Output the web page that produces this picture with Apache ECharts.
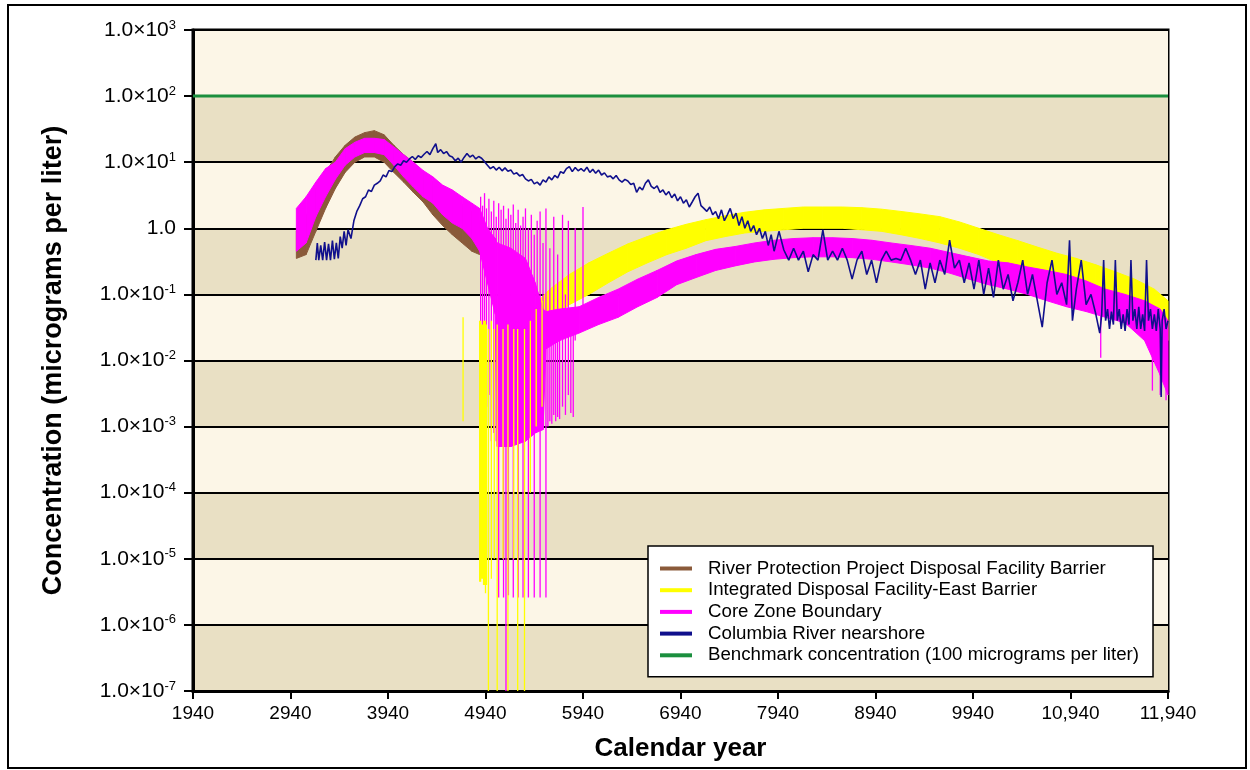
<!DOCTYPE html>
<html>
<head>
<meta charset="utf-8">
<title>Concentration vs calendar year</title>
<script src="https://cdn.jsdelivr.net/npm/echarts@6/dist/echarts.min.js"></script>
<style>
  html, body { margin: 0; padding: 0; background: #fff; }
  #chart { width: 1250px; height: 770px; }
</style>
</head>
<body>
<div id="chart"></div>
<script>
// x axis runs 1940..11940, plotted as offset from 1940 so ticks land on the labels
var X0 = 1940;
var xTickLabels = ['1940', '2940', '3940', '4940', '5940', '6940', '7940', '8940', '9940', '10,940', '11,940'];

var seriesNames = [
  'River Protection Project Disposal Facility Barrier',
  'Integrated Disposal Facility-East Barrier',
  'Core Zone Boundary',
  'Columbia River nearshore',
  'Benchmark concentration (100 micrograms per liter)'
];

// bands: [year, low, high]
var rppBand = [
  [3000, 0.35, 0.9], [3100, 0.4, 1.5], [3200, 0.9, 4], [3300, 2, 7], [3400, 4, 12],
  [3500, 7, 18], [3600, 10, 24], [3700, 12, 28], [3800, 12, 30], [3900, 10, 26],
  [4000, 7, 18], [4100, 5, 13], [4200, 3.5, 10], [4300, 2.5, 7], [4400, 1.6, 5],
  [4500, 1.1, 4], [4600, 0.8, 3], [4700, 0.6, 2.3], [4800, 0.45, 1.8], [4880, 0.4, 1.2]
];

var coreBand = [
  [3000, 0.45, 2], [3100, 0.6, 3], [3200, 1.5, 5], [3300, 3, 8], [3400, 5.5, 10],
  [3500, 9, 16], [3600, 12, 20], [3700, 14, 23], [3800, 14, 23], [3900, 13, 22],
  [4000, 9, 17], [4100, 6, 13], [4200, 4.2, 10], [4300, 3, 7.5], [4400, 2.4, 6],
  [4500, 1.6, 4.5], [4600, 1.2, 3.8], [4700, 1.0, 3], [4800, 0.7, 2.4], [4880, 0.45, 2],
  [4960, 0.15, 1.0], [5040, 0.05, 0.7], [5060, 0.0005, 0.6], [5200, 0.0005, 0.5],
  [5350, 0.0006, 0.35], [5450, 0.0008, 0.15], [5530, 0.0009, 0.06], [5560, 0.015, 0.055],
  [5700, 0.02, 0.06], [5900, 0.026, 0.065], [6100, 0.035, 0.09], [6300, 0.045, 0.12],
  [6500, 0.065, 0.17], [6700, 0.09, 0.23], [6900, 0.14, 0.32], [7100, 0.18, 0.4],
  [7300, 0.23, 0.48], [7500, 0.27, 0.53], [7700, 0.31, 0.6], [7900, 0.34, 0.66],
  [8100, 0.36, 0.7], [8300, 0.37, 0.72], [8500, 0.37, 0.72], [8700, 0.36, 0.7],
  [8900, 0.34, 0.66], [9100, 0.31, 0.6], [9300, 0.28, 0.55], [9500, 0.25, 0.5],
  [9700, 0.21, 0.43], [9900, 0.17, 0.37], [10100, 0.14, 0.32], [10300, 0.12, 0.3],
  [10500, 0.1, 0.26], [10700, 0.08, 0.23], [10900, 0.065, 0.2], [11100, 0.055, 0.16],
  [11300, 0.045, 0.12], [11500, 0.037, 0.1], [11700, 0.02, 0.08], [11860, 0.006, 0.06],
  [11940, 0.003, 0.04]
];

var idfBand = [
  [5400, 0.02, 0.06], [5600, 0.04, 0.12], [5800, 0.07, 0.2], [6000, 0.1, 0.3],
  [6200, 0.15, 0.42], [6400, 0.22, 0.58], [6600, 0.3, 0.75], [6800, 0.4, 0.95],
  [7000, 0.5, 1.15], [7200, 0.65, 1.35], [7400, 0.75, 1.55], [7600, 0.85, 1.75],
  [7800, 0.9, 1.9], [8000, 0.95, 2.0], [8200, 1.0, 2.1], [8400, 1.0, 2.1],
  [8600, 1.0, 2.1], [8800, 0.95, 2.05], [9000, 0.9, 1.95], [9200, 0.8, 1.8],
  [9400, 0.7, 1.65], [9600, 0.6, 1.5], [9800, 0.5, 1.25], [10000, 0.4, 1.0],
  [10200, 0.3, 0.8], [10400, 0.25, 0.65], [10600, 0.2, 0.52], [10800, 0.15, 0.42],
  [11000, 0.12, 0.35], [11200, 0.09, 0.28], [11400, 0.07, 0.22], [11600, 0.05, 0.17],
  [11800, 0.03, 0.12], [11940, 0.02, 0.08]
];

// spikes: [year, top, bottom]
var coreSpikes = [
  [4890, 3.0, 0.03], [4910, 2.2, 0.004], [4930, 3.4, 0.02], [4950, 2.0, 0.002], [4975, 2.8, 0.003],
  [5000, 1.8, 0.0006], [5025, 2.6, 0.0008], [5050, 1.5, 0.0006], [5075, 2.4, 2.6e-6], [5100, 1.9, 0.0005],
  [5125, 2.2, 2.6e-6], [5150, 1.4, 1e-7], [5175, 2.0, 2.8e-6], [5200, 1.6, 0.0005], [5225, 2.3, 2.6e-6],
  [5250, 1.2, 0.0006], [5275, 1.9, 2.6e-6], [5300, 1.1, 0.0006], [5325, 1.5, 2.6e-6], [5350, 2.0, 0.0007],
  [5380, 1.0, 2.6e-6], [5410, 1.6, 0.0008], [5440, 0.8, 2.6e-6], [5470, 1.3, 0.001], [5500, 1.8, 2.6e-6],
  [5530, 0.6, 0.0009], [5560, 2.0, 2.6e-6], [5580, 0.05, 0.001], [5600, 0.5, 0.0012], [5620, 0.05, 0.0011],
  [5640, 1.5, 0.0015], [5660, 0.05, 0.0012], [5680, 0.4, 0.0014], [5700, 0.05, 0.0013], [5730, 1.6, 0.002],
  [5760, 0.1, 0.0015], [5790, 1.3, 0.003], [5815, 0.05, 0.0016], [5840, 0.06, 0.0014], [5860, 1.0, 0.02],
  [5940, 2.1, 0.03], [11250, 0.1, 0.011], [11780, 0.05, 0.0035], [11860, 0.05, 0.003], [11920, 0.04, 0.0025]
];

var idfSpikes = [
  [4710, 0.045, 0.0012], [4880, 0.04, 4.5e-6], [4890, 0.04, 4.5e-6], [4900, 0.035, 5e-6], [4910, 0.035, 5e-6],
  [4920, 0.04, 4e-6], [4930, 0.04, 4e-6], [4940, 0.04, 3e-6], [4950, 0.035, 4e-6], [4970, 0.03, 1e-7],
  [5000, 0.04, 5e-6], [5030, 0.03, 1e-5], [5060, 0.035, 1e-7], [5120, 0.03, 1e-5], [5170, 0.035, 1e-7],
  [5230, 0.03, 1e-5], [5270, 0.03, 1e-7], [5340, 0.03, 1e-7], [5400, 0.04, 1e-4], [5460, 0.06, 1e-3],
  [5520, 0.08, 2e-3]
];

// noisy line: [year, value]
var riverData = [
  [3200, 0.33], [3215, 0.6], [3230, 0.33], [3250, 0.55], [3270, 0.33], [3290, 0.62], [3310, 0.33], [3330, 0.58],
  [3350, 0.33], [3370, 0.65], [3390, 0.34], [3410, 0.6], [3430, 0.35], [3450, 0.75], [3470, 0.5], [3490, 0.9],
  [3510, 0.55], [3530, 0.95], [3560, 0.7], [3590, 1.3], [3620, 1.8], [3650, 2.2], [3680, 2.8], [3710, 3.0],
  [3740, 3.8], [3770, 3.6], [3800, 4.5], [3830, 4.8], [3860, 5.2], [3890, 6.4], [3920, 6.0], [3950, 7.5],
  [3980, 7.2], [4010, 8.6], [4040, 9.4], [4070, 9.0], [4100, 10.5], [4130, 10.0], [4160, 11.2], [4190, 12.2],
  [4220, 11.0], [4250, 12.5], [4280, 11.8], [4310, 13.2], [4340, 14.5], [4370, 13.0], [4400, 16.0], [4430, 19.0],
  [4450, 14.0], [4480, 15.5], [4510, 13.5], [4540, 14.5], [4570, 12.5], [4600, 12.0], [4630, 10.5], [4660, 11.5],
  [4690, 10.0], [4720, 11.8], [4750, 13.5], [4780, 12.0], [4810, 12.8], [4840, 11.2], [4870, 12.2], [4900, 11.5],
  [4930, 10.2], [4960, 9.0], [4990, 8.0], [5020, 8.6], [5050, 7.6], [5080, 8.4], [5110, 7.4], [5140, 8.2],
  [5170, 7.3], [5200, 7.6], [5230, 6.6], [5260, 6.9], [5290, 6.2], [5320, 6.5], [5350, 5.6], [5380, 5.2],
  [5410, 5.5], [5440, 4.7], [5470, 5.0], [5500, 4.5], [5530, 5.4], [5560, 5.0], [5590, 6.0], [5620, 5.4],
  [5650, 6.3], [5680, 5.8], [5710, 7.2], [5740, 6.8], [5770, 8.0], [5800, 8.6], [5830, 7.2], [5860, 8.3],
  [5890, 7.4], [5920, 8.0], [5950, 7.3], [5980, 8.4], [6010, 7.0], [6040, 7.8], [6070, 6.8], [6100, 7.6],
  [6130, 6.4], [6160, 6.9], [6190, 6.0], [6220, 6.2], [6250, 5.6], [6280, 6.3], [6310, 5.4], [6340, 5.0],
  [6370, 5.5], [6400, 5.2], [6430, 4.6], [6460, 4.8], [6490, 3.5], [6520, 4.2], [6550, 3.8], [6580, 4.8],
  [6610, 5.4], [6640, 4.3], [6670, 4.0], [6700, 4.4], [6730, 3.5], [6760, 3.8], [6790, 3.2], [6820, 3.6],
  [6850, 2.9], [6880, 3.3], [6910, 2.6], [6940, 3.0], [6970, 2.4], [7000, 2.7], [7030, 2.1], [7060, 2.5],
  [7090, 3.0], [7120, 3.4], [7150, 2.2], [7180, 2.0], [7210, 1.8], [7240, 2.1], [7270, 1.6], [7300, 1.8],
  [7330, 1.4], [7360, 1.9], [7390, 1.3], [7420, 1.6], [7450, 2.0], [7480, 1.4], [7510, 1.7], [7540, 1.1],
  [7570, 1.5], [7600, 1.0], [7630, 1.3], [7660, 0.9], [7690, 1.1], [7720, 0.8], [7750, 1.0], [7780, 0.7],
  [7810, 0.9], [7840, 0.55], [7870, 0.8], [7900, 0.45], [7950, 0.9], [8000, 0.47], [8050, 0.33], [8100, 0.5],
  [8150, 0.33], [8200, 0.45], [8250, 0.22], [8300, 0.4], [8350, 0.33], [8400, 0.95], [8450, 0.33], [8500, 0.45],
  [8550, 0.33], [8600, 0.5], [8650, 0.33], [8700, 0.17], [8750, 0.33], [8800, 0.45], [8850, 0.2], [8900, 0.33],
  [8950, 0.15], [9000, 0.33], [9050, 0.45], [9100, 0.33], [9150, 0.35], [9200, 0.33], [9250, 0.5], [9300, 0.33],
  [9350, 0.2], [9400, 0.33], [9450, 0.12], [9500, 0.3], [9550, 0.15], [9600, 0.33], [9650, 0.2], [9700, 0.66],
  [9750, 0.25], [9800, 0.33], [9850, 0.15], [9900, 0.3], [9950, 0.12], [10000, 0.33], [10050, 0.1], [10100, 0.25],
  [10150, 0.09], [10200, 0.33], [10250, 0.12], [10300, 0.2], [10350, 0.08], [10400, 0.15], [10450, 0.33], [10500, 0.1],
  [10550, 0.2], [10600, 0.08], [10650, 0.032], [10700, 0.15], [10750, 0.33], [10800, 0.1], [10850, 0.15], [10900, 0.07],
  [10930, 0.66], [10960, 0.04], [11000, 0.12], [11050, 0.33], [11100, 0.07], [11150, 0.1], [11200, 0.05], [11240, 0.026],
  [11260, 0.05], [11280, 0.33], [11300, 0.04], [11320, 0.06], [11340, 0.03], [11360, 0.055], [11380, 0.035], [11400, 0.33],
  [11420, 0.04], [11440, 0.06], [11460, 0.03], [11480, 0.05], [11500, 0.028], [11520, 0.06], [11540, 0.035], [11560, 0.33],
  [11580, 0.04], [11600, 0.06], [11620, 0.03], [11640, 0.065], [11660, 0.03], [11680, 0.05], [11700, 0.028], [11720, 0.33],
  [11740, 0.04], [11760, 0.06], [11780, 0.03], [11800, 0.05], [11820, 0.028], [11840, 0.06], [11860, 0.03], [11870, 0.0028],
  [11880, 0.04], [11900, 0.06], [11920, 0.03], [11940, 0.04]
];

var benchmark = [[1940, 100], [11940, 100]];

var colors = ['#8a5a3a', '#ffff00', '#ff00ff', '#10108c', '#1b8f3e'];
var FONT = '"Liberation Sans", Arial, sans-serif';

function shiftX(rows) {
  return rows.map(function (r) { return [r[0] - X0].concat(r.slice(1)); });
}

function bandSeries(name, color, rows) {
  var pts = shiftX(rows);
  return {
    name: name,
    type: 'custom',
    coordinateSystem: 'cartesian2d',
    itemStyle: { color: color },
    encode: { x: 0, y: [1, 2] },
    data: pts,
    silent: true,
    renderItem: function (params, api) {
      var i = params.dataIndex;
      if (i >= pts.length - 1) return null;
      var a = pts[i], b = pts[i + 1];
      return {
        type: 'polygon',
        shape: { points: [api.coord([a[0], a[2]]), api.coord([b[0], b[2]]), api.coord([b[0], b[1]]), api.coord([a[0], a[1]])] },
        style: { fill: color, stroke: color, lineWidth: 1 }
      };
    }
  };
}

function spikeSeries(name, color, rows) {
  var pts = shiftX(rows);
  return {
    name: name,
    type: 'custom',
    coordinateSystem: 'cartesian2d',
    itemStyle: { color: color },
    encode: { x: 0, y: [1, 2] },
    data: pts,
    silent: true,
    renderItem: function (params, api) {
      var p = pts[params.dataIndex];
      var t = api.coord([p[0], p[1]]), b = api.coord([p[0], p[2]]);
      return {
        type: 'line',
        shape: { x1: t[0], y1: t[1], x2: b[0], y2: b[1] },
        style: { stroke: color, lineWidth: 1.3 }
      };
    }
  };
}

var chart = echarts.init(document.getElementById('chart'), null, { renderer: 'canvas' });

var option = {
  animation: false,
  backgroundColor: '#ffffff',
  textStyle: { fontFamily: FONT },
  graphic: [{
    type: 'rect',
    shape: { x: 8, y: 5, width: 1238, height: 763 },
    style: { fill: null, stroke: '#000', lineWidth: 2 },
    z: -10
  }],
  grid: {
    left: 193, right: 82, top: 30, bottom: 79,
    show: true, borderColor: '#000', borderWidth: 3, backgroundColor: 'transparent'
  },
  legend: {
    orient: 'vertical',
    left: 648, top: 546,
    padding: [13, 14, 12, 12],
    itemGap: 2.7,
    itemWidth: 32, itemHeight: 4,
    icon: 'rect',
    backgroundColor: '#ffffff',
    borderColor: '#000', borderWidth: 1.5,
    selectedMode: false,
    textStyle: { fontSize: 18.7, color: '#000', lineHeight: 18, padding: [0, 0, 0, 11], fontFamily: FONT },
    data: seriesNames
  },
  xAxis: {
    type: 'value',
    min: 0, max: 10000, interval: 1000,
    name: 'Calendar year',
    nameLocation: 'middle', nameGap: 45,
    nameTextStyle: { fontSize: 26, fontWeight: 'bold', color: '#000', fontFamily: FONT },
    axisLine: { lineStyle: { color: '#000', width: 3 } },
    axisTick: { show: true, length: 8, lineStyle: { color: '#000', width: 2 } },
    axisLabel: {
      fontSize: 19, color: '#000', margin: 13, fontFamily: FONT,
      formatter: function (v) { return xTickLabels[Math.round(v / 1000)]; }
    },
    splitLine: { show: false }
  },
  yAxis: {
    type: 'log', logBase: 10,
    min: 1e-7, max: 1e3, interval: 1,
    name: 'Concentration (micrograms per liter)',
    nameLocation: 'middle', nameGap: 126,
    nameTextStyle: { fontSize: 27, fontWeight: 'bold', color: '#000', fontFamily: FONT },
    axisLine: { lineStyle: { color: '#000', width: 3 } },
    axisTick: { show: true, length: 9, lineStyle: { color: '#000', width: 2 } },
    axisLabel: {
      color: '#000', margin: 17,
      formatter: function (v) {
        var e = Math.round(Math.log(v) / Math.LN10);
        return e === 0 ? '{m|1.0}' : '{m|1.0\u00d710}{e|' + e + '}';
      },
      rich: {
        m: { fontSize: 21, color: '#000', fontFamily: FONT },
        e: { fontSize: 13, color: '#000', fontFamily: FONT, padding: [0, 0, 10, 0] }
      }
    },
    splitLine: { show: true, lineStyle: { color: '#000', width: 2 } },
    splitArea: { show: true, areaStyle: { color: ['#e9e0c4', '#fcf6e7'] } }
  },
  series: [
    bandSeries(seriesNames[0], colors[0], rppBand),
    bandSeries(seriesNames[1], colors[1], idfBand),
    bandSeries(seriesNames[2], colors[2], coreBand),
    spikeSeries(seriesNames[2], colors[2], coreSpikes),
    spikeSeries(seriesNames[1], colors[1], idfSpikes),
    {
      name: seriesNames[3], type: 'line', showSymbol: false, silent: true,
      data: shiftX(riverData),
      itemStyle: { color: colors[3] },
      lineStyle: { color: colors[3], width: 1.6 }
    },
    {
      name: seriesNames[4], type: 'line', showSymbol: false, silent: true,
      data: shiftX(benchmark),
      itemStyle: { color: colors[4] },
      lineStyle: { color: colors[4], width: 3 }
    }
  ]
};

chart.setOption(option);
</script>
</body>
</html>
